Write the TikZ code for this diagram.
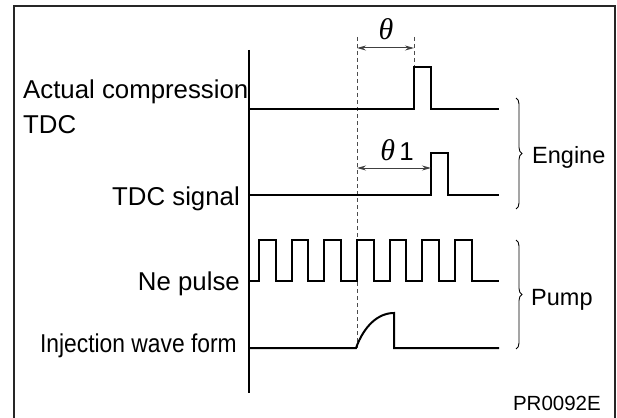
\documentclass[tikz,border=0pt]{standalone}
\usepackage{fontspec}
\setmainfont{Liberation Sans}
\newfontfamily\thetafont{Liberation Serif}
\usetikzlibrary{arrows.meta,decorations.pathreplacing}
\begin{document}
\begin{tikzpicture}[x=1pt,y=-1pt,
  lbl/.style={inner sep=0pt,font=\fontsize{25.8}{26}\selectfont},
  grp/.style={inner sep=0pt,font=\fontsize{23.5}{24}\selectfont},
  wave/.style={line width=2pt,line join=miter},
  guide/.style={line width=1pt,draw=black!70,dash pattern=on 4pt off 3pt},
  dim/.style={line width=1pt,draw=black!75,{Stealth[length=9pt,width=5pt]}-{Stealth[length=9pt,width=5pt]}},
  brc/.style={line width=0.9pt,decorate,decoration={brace,amplitude=6pt}}]
\useasboundingbox (0,0) rectangle (617,417);
\fill[white] (0,0) rectangle (617,417);
% frame
\draw[line width=2.5pt,draw=black!85] (14,418) -- (14,6) -- (615,6) -- (615,418);
% axis
\coordinate (axT) at (249,50);
\coordinate (axB) at (249,393);
\draw[line width=1.2pt] (axT) -- (axB);
% guides
\coordinate (g1T) at (357,37);
\coordinate (g1B) at (357,348);
\coordinate (g2T) at (414,37);
\coordinate (g2B) at (414,67);
\draw[guide] (g1T) -- (g1B);
\draw[guide] (g2T) -- (g2B);
% actual compression TDC
\draw[wave] (249,109) -- (414,109) -- (414,67) -- (431,67) -- (431,109) -- (499,109);
% TDC signal
\draw[wave] (249,195) -- (431,195) -- (431,153) -- (448,153) -- (448,195) -- (499,195);
% Ne pulse
\draw[wave] (249,281) -- (259,281)
  \foreach \s in {259,291.7,324.3,357,389.6,422.3,455} {
    -- (\s,281) -- (\s,240) -- (\s+16.5,240) -- (\s+16.5,281)
  } -- (499,281);
% injection wave form
\draw[wave] (249,348) -- (356,348) .. controls (364,326) and (378,313) .. (394,313) -- (394,348) -- (499,348);
% dimension arrows
\coordinate (a1L) at (357,48);
\coordinate (a1R) at (414,48);
\coordinate (a2L) at (357,168);
\coordinate (a2R) at (431,168);
\draw[dim] (a1L) -- (a1R);
\draw[dim] (a2L) -- (a2R);
\node[inner sep=0pt,font=\fontsize{30}{30}\selectfont,anchor=base] (th) at (386,40) {\thetafont\itshape θ};
\node[inner sep=0pt,font=\fontsize{25.8}{26}\selectfont,anchor=base] (th1) at (397,160) {{\thetafont\itshape\fontsize{30}{30}\selectfont θ}\,1};
% braces
\coordinate (b1T) at (516,98);
\coordinate (b1B) at (516,209);
\coordinate (b2T) at (516,240);
\coordinate (b2B) at (516,349);
\draw[brc] (b1T) -- (b1B);
\draw[brc] (b2T) -- (b2B);
\node[grp,anchor=base west] (eng) at (532,163) {Engine};
\node[grp,anchor=base west] (pmp) at (531,305) {Pump};
% labels
\node[lbl,anchor=base west] (act) at (23,99) {Actual compression};
\node[lbl,anchor=base west] (tdc) at (23,133) {TDC};
\node[lbl,anchor=base east] (sig) at (240,205) {TDC signal};
\node[lbl,anchor=base east] (ne) at (240,290) {Ne pulse};
\node[lbl,anchor=base east] (inj) at (237,352) {\scalebox{0.885}[1]{Injection wave form}};
\node[inner sep=0pt,anchor=base east,font=\fontsize{20.5}{20.5}\selectfont] (pr) at (601,410) {PR0092E};
\end{tikzpicture}
\end{document}
